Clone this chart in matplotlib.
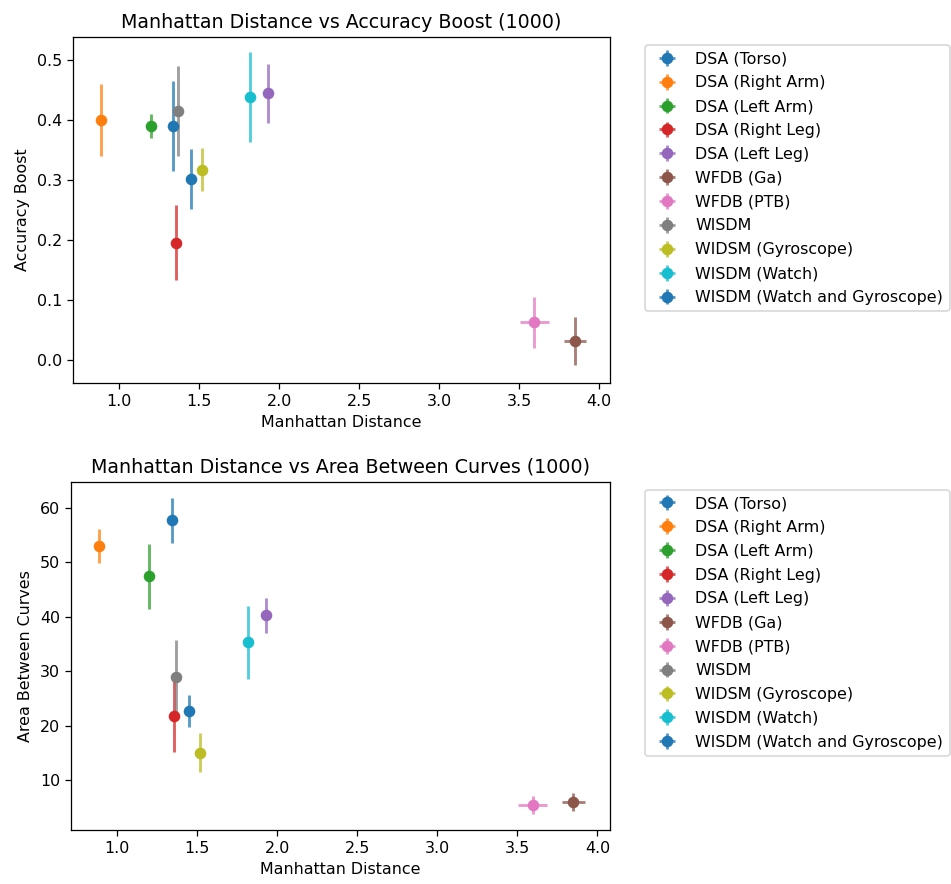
import numpy as np
import matplotlib
matplotlib.use("Agg")
import matplotlib.pyplot as plt

# Dataset labels (legend order)
labels = ["DSA (Torso)", "DSA (Right Arm)", "DSA (Left Arm)", "DSA (Right Leg)",
          "DSA (Left Leg)", "WFDB (Ga)", "WFDB (PTB)", "WISDM",
          "WIDSM (Gyroscope)", "WISDM (Watch)", "WISDM (Watch and Gyroscope)"]

# Manhattan distance (mean, spread)
dist = [1.339, 0.887, 1.196, 1.356, 1.929, 3.850, 3.595, 1.367, 1.518, 1.818, 1.447]
dist_err = [0.01, 0.01, 0.01, 0.01, 0.01, 0.07, 0.093, 0.01, 0.01, 0.01, 0.01]

# Accuracy boost (mean, spread)
boost = [0.390, 0.401, 0.390, 0.196, 0.445, 0.031, 0.063, 0.415, 0.318, 0.439, 0.302]
boost_err = [0.075, 0.060, 0.020, 0.063, 0.049, 0.040, 0.043, 0.075, 0.036, 0.075, 0.050]

# Area between curves (mean, spread)
area = [57.7, 53.0, 47.4, 21.7, 40.3, 5.96, 5.4, 28.9, 15.0, 35.3, 22.7]
area_err = [4.2, 3.2, 6.0, 6.6, 3.2, 1.6, 1.6, 6.8, 3.6, 6.75, 2.9]

colors = plt.rcParams['axes.prop_cycle'].by_key()['color']

DPI = 114
fig = plt.figure(figsize=(952 / DPI, 884 / DPI), dpi=DPI)
ax1 = fig.add_axes([0.0767, 0.567, 0.564, 0.391])
ax2 = fig.add_axes([0.0746, 0.061, 0.566, 0.394])


def draw(ax, yvals, yerrs):
    for i, lab in enumerate(labels):
        c = colors[i % len(colors)]
        eb = ax.errorbar(dist[i], yvals[i], xerr=dist_err[i], yerr=yerrs[i],
                         fmt='o', color=c, markersize=6.3, elinewidth=1.8, label=lab)
        for lc in eb[2]:
            lc.set_alpha(0.75)
    ax.legend(bbox_to_anchor=(1.05, 1), loc='upper left', labelspacing=0.56)
    ax.set_xlabel("Manhattan Distance")


draw(ax1, boost, boost_err)
ax1.set_xlim(0.711, 4.067)
ax1.set_ylim(-0.038, 0.539)
ax1.set_ylabel("Accuracy Boost")
ax1.set_title("Manhattan Distance vs Accuracy Boost (1000)")

draw(ax2, area, area_err)
ax2.set_xlim(0.711, 4.078)
ax2.set_ylim(0.8, 64.8)
ax2.set_ylabel("Area Between Curves")
ax2.set_title("Manhattan Distance vs Area Between Curves (1000)")

plt.savefig("out.png", dpi=DPI)
